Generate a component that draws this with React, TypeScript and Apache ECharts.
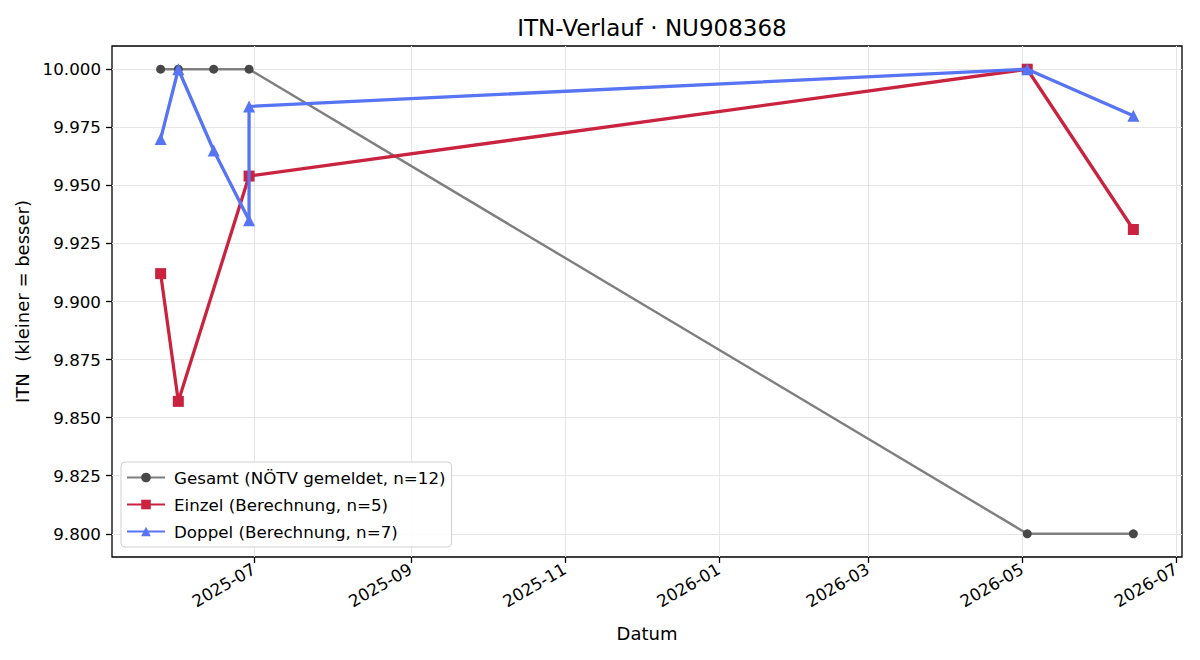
import React, { useEffect, useRef } from 'react';
import * as echarts from 'echarts';

// ---- data ----
const gesamtDates = ['2025-05-25', '2025-06-01', '2025-06-15', '2025-06-29', '2026-05-03', '2026-06-14'];
const gesamtValues = [10.0, 10.0, 10.0, 10.0, 9.8, 9.8];

const einzelDates = ['2025-05-25', '2025-06-01', '2025-06-29', '2026-05-03', '2026-06-14'];
const einzelValues = [9.912, 9.857, 9.954, 10.0, 9.931];

const doppelDates = ['2025-05-25', '2025-06-01', '2025-06-15', '2025-06-29', '2025-06-29', '2026-05-03', '2026-06-14'];
const doppelValues = [9.97, 10.0, 9.965, 9.935, 9.984, 10.0, 9.98];

const xTickLabels = ['2025-07', '2025-09', '2025-11', '2026-01', '2026-03', '2026-05', '2026-07'];
const yTickValues = [9.8, 9.825, 9.85, 9.875, 9.9, 9.925, 9.95, 9.975, 10.0];

const seriesNames = ['Gesamt (NÖTV gemeldet, n=12)', 'Einzel (Berechnung, n=5)', 'Doppel (Berechnung, n=7)'];

const FONT = '"DejaVu Sans", "Noto Sans", sans-serif';

const ts = (s: string) => {
  const [y, m, d] = s.split('-').map(Number);
  return new Date(y, m - 1, d || 1).getTime();
};
const pairs = (dates: string[], values: number[]) => dates.map((d, i) => [ts(d), values[i]]);

export default function App() {
  const ref = useRef<HTMLDivElement>(null);

  useEffect(() => {
    if (!ref.current) return;
    const chart = echarts.init(ref.current, null, { renderer: 'svg' });
    const xTicks = xTickLabels.map((s) => ts(s));
    const fmtMonth = (v: number) => {
      const d = new Date(v);
      return `${d.getFullYear()}-${String(d.getMonth() + 1).padStart(2, '0')}`;
    };
    chart.setOption({
      animation: false,
      backgroundColor: '#ffffff',
      title: {
        text: 'ITN-Verlauf · NU908368',
        left: 647,
        top: 11,
        textAlign: 'center',
        textStyle: { fontFamily: FONT, fontSize: 23, fontWeight: 'normal', color: '#000' },
      },
      grid: {
        left: 112,
        right: 18,
        top: 46,
        bottom: 103,
        show: true,
        borderColor: '#000',
        borderWidth: 1.3,
        backgroundColor: 'transparent',
      },
      legend: {
        orient: 'vertical',
        left: 121,
        top: 462,
        data: seriesNames,
        itemWidth: 38,
        itemHeight: 12,
        itemGap: 10,
        padding: [7, 6, 7, 5],
        backgroundColor: 'rgba(255,255,255,0.85)',
        borderColor: '#d0d0d0',
        borderWidth: 1,
        borderRadius: 4,
        textStyle: { fontFamily: FONT, fontSize: 16.7, color: '#000', padding: [0, 0, 0, 4] },
      },
      xAxis: {
        type: 'value',
        min: new Date(2025, 4, 5, 18).getTime(),
        max: new Date(2026, 6, 3, 6).getTime(),
        name: 'Datum',
        nameLocation: 'middle',
        nameGap: 67,
        nameTextStyle: { fontFamily: FONT, fontSize: 18, color: '#000' },
        axisLine: { show: false },
        axisTick: {
          show: true,
          length: 6,
          inside: false,
          lineStyle: { color: '#000', width: 1.3 },
          customValues: xTicks,
        },
        axisLabel: {
          show: true,
          rotate: 30,
          margin: 11,
          fontFamily: FONT,
          fontSize: 16.7,
          color: '#000',
          customValues: xTicks,
          formatter: (v: number) => fmtMonth(v),
          hideOverlap: false,
        },
        splitLine: { show: true, lineStyle: { color: '#e6e6e6', width: 1 } },
      },
      yAxis: {
        type: 'value',
        min: 9.79,
        max: 10.01,
        name: 'ITN  (kleiner = besser)',
        nameLocation: 'middle',
        nameRotate: 90,
        nameGap: 74,
        nameTextStyle: { fontFamily: FONT, fontSize: 18, color: '#000' },
        axisLine: { show: false },
        axisTick: {
          show: true,
          length: 6,
          lineStyle: { color: '#000', width: 1.3 },
          customValues: yTickValues,
        },
        axisLabel: {
          show: true,
          margin: 11,
          fontFamily: FONT,
          fontSize: 16.7,
          color: '#000',
          customValues: yTickValues,
          formatter: (v: number) => v.toFixed(3),
        },
        splitLine: { show: true, lineStyle: { color: '#e6e6e6', width: 1 } },
      },
      series: [
        {
          name: seriesNames[0],
          type: 'line',
          data: pairs(gesamtDates, gesamtValues),
          symbol: 'circle',
          symbolSize: 9,
          lineStyle: { color: '#7f7f7f', width: 2.4 },
          itemStyle: { color: '#484848' },
          z: 2,
        },
        {
          name: seriesNames[1],
          type: 'line',
          data: pairs(einzelDates, einzelValues),
          symbol: 'rect',
          symbolSize: 11,
          lineStyle: { color: '#c9233f', width: 3.3 },
          itemStyle: { color: '#c9233f' },
          z: 3,
        },
        {
          name: seriesNames[2],
          type: 'line',
          data: pairs(doppelDates, doppelValues),
          symbol: 'triangle',
          symbolSize: 12,
          lineStyle: { color: '#5674f3', width: 3.3 },
          itemStyle: { color: '#5674f3' },
          z: 4,
        },
      ],
    });
    return () => chart.dispose();
  }, []);

  return (
    <div
      ref={ref}
      style={{ position: 'fixed', left: 0, top: 0, width: 1200, height: 660, background: '#fff' }}
    />
  );
}
